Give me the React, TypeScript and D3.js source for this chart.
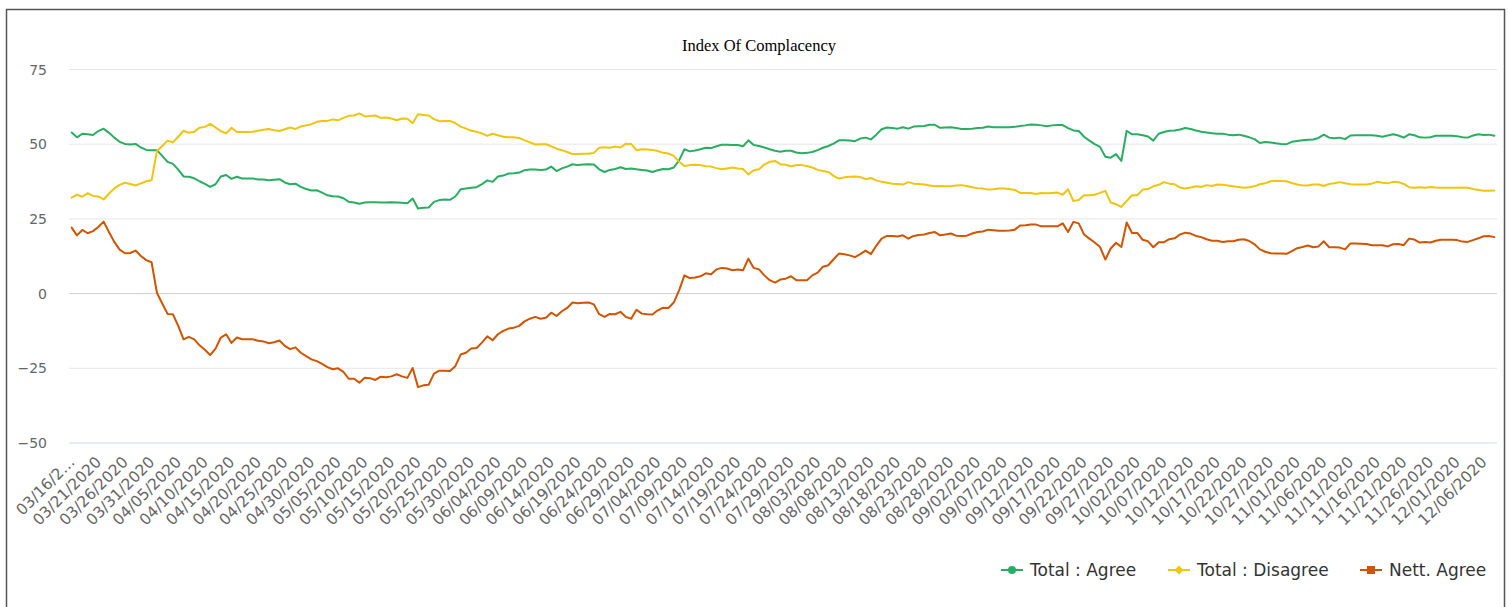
import React from 'react';
import * as d3 from 'd3';

// daily survey readings, 03/16/2020 .. 12/09/2020
const startDay = new Date(2020, 2, 16);

const agree = [
  53.9, 52.3, 53.5, 53.3, 53.1, 54.4, 55.2, 53.8, 52.2, 50.8,
  50.1, 49.9, 50.1, 48.9, 48.1, 48.0, 48.0, 46.1, 44.1, 43.4,
  41.5, 39.2, 39.1, 38.6, 37.6, 36.7, 35.7, 36.6, 39.2, 39.7,
  38.4, 39.1, 38.5, 38.5, 38.5, 38.2, 38.2, 37.9, 38.1, 38.3,
  37.2, 36.6, 36.8, 35.7, 35.0, 34.5, 34.6, 33.8, 32.9, 32.6,
  32.5, 31.9, 30.7, 30.5, 30.1, 30.5, 30.6, 30.6, 30.5, 30.5,
  30.6, 30.5, 30.4, 30.2, 31.8, 28.5, 28.7, 28.8, 30.7, 31.3,
  31.5, 31.4, 32.5, 34.9, 35.2, 35.4, 35.6, 36.6, 37.9, 37.4,
  39.2, 39.5, 40.2, 40.3, 40.5, 41.3, 41.5, 41.5, 41.4, 41.5,
  42.5, 41.0, 41.9, 42.5, 43.3, 43.0, 43.2, 43.3, 43.2, 41.6,
  40.7, 41.4, 41.7, 42.3, 41.7, 41.9, 41.6, 41.4, 41.2, 40.7,
  41.3, 41.7, 41.6, 42.2, 44.6, 48.3, 47.6, 47.9, 48.3, 48.8,
  48.7, 49.3, 49.8, 49.8, 49.7, 49.7, 49.3, 51.3, 49.7, 49.4,
  48.9, 48.3, 47.8, 47.5, 47.8, 47.8, 47.2, 47.0, 47.1, 47.4,
  48.0, 48.8, 49.4, 50.2, 51.3, 51.3, 51.2, 51.0, 51.9, 52.2,
  51.6, 53.2, 55.0, 55.6, 55.4, 55.2, 55.7, 55.2, 55.9, 56.0,
  56.1, 56.5, 56.5, 55.5, 55.6, 55.7, 55.4, 55.1, 55.1, 55.2,
  55.4, 55.5, 55.9, 55.7, 55.7, 55.7, 55.7, 55.8, 56.1, 56.3,
  56.6, 56.5, 56.3, 56.0, 56.3, 56.4, 56.4, 55.4, 54.6, 54.4,
  52.5, 51.2, 50.0, 49.1, 45.8, 45.5, 46.7, 44.4, 54.5, 53.3,
  53.3, 53.0, 52.6, 51.2, 53.5, 54.1, 54.5, 54.6, 54.9, 55.4,
  55.1, 54.6, 54.2, 53.9, 53.7, 53.5, 53.5, 53.2, 53.0, 53.2,
  52.8, 52.3, 51.7, 50.4, 50.7, 50.6, 50.3, 50.1, 50.0, 50.8,
  51.1, 51.3, 51.5, 51.6, 52.1, 53.2, 52.2, 52.0, 52.2, 51.7,
  52.9, 53.0, 53.0, 53.0, 53.0, 52.8, 52.5, 52.9, 53.3, 52.9,
  52.2, 53.3, 53.0, 52.3, 52.2, 52.3, 52.8, 52.8, 52.8, 52.8,
  52.7, 52.3, 52.2, 52.9, 53.3, 53.1, 53.2, 52.8,
];

const disagree = [
  32.1, 33.1, 32.4, 33.6, 32.7, 32.5, 31.5, 33.5, 35.2, 36.4,
  37.1, 36.7, 36.2, 36.9, 37.6, 37.9, 47.7, 49.4, 51.2, 50.6,
  52.5, 54.5, 53.8, 54.2, 55.5, 55.8, 56.8, 55.6, 54.4, 53.6,
  55.5, 54.1, 54.1, 54.1, 54.2, 54.5, 54.8, 55.1, 54.7, 54.4,
  55.0, 55.6, 55.1, 55.9, 56.3, 56.7, 57.5, 57.8, 57.8, 58.3,
  58.0, 58.8, 59.5, 59.6, 60.3, 59.3, 59.4, 59.6, 58.8, 58.9,
  58.6, 58.0, 58.6, 58.5, 57.0, 60.0, 59.8, 59.6, 58.4, 57.7,
  57.8, 57.8, 57.1, 55.9, 55.2, 54.5, 54.2, 53.6, 52.8, 53.5,
  53.0, 52.5, 52.3, 52.3, 52.1, 51.3, 50.6, 49.9, 50.0, 50.0,
  49.3, 48.5, 48.0, 47.4, 46.7, 46.7, 46.8, 46.8, 47.1, 48.8,
  49.0, 48.8, 49.2, 48.9, 50.1, 50.1, 48.0, 48.3, 48.2, 48.1,
  47.7, 47.1, 46.9, 46.1, 44.1, 42.7, 43.0, 43.1, 43.0, 42.6,
  42.5, 42.0, 41.6, 41.9, 42.2, 41.9, 41.7, 39.9, 41.3, 41.6,
  43.2, 44.1, 44.4, 43.3, 43.1, 42.6, 43.0, 43.0, 42.7, 42.2,
  41.4, 41.0, 40.7, 39.4, 38.5, 38.9, 39.1, 39.2, 39.0, 38.3,
  38.7, 37.9, 37.4, 37.1, 36.8, 36.7, 36.5, 37.3, 36.8, 36.7,
  36.5, 36.2, 35.9, 36.0, 35.9, 35.9, 36.2, 36.3, 36.0, 35.6,
  35.3, 35.2, 34.8, 34.9, 35.2, 35.2, 35.0, 34.7, 33.7, 33.7,
  33.7, 33.3, 33.7, 33.6, 33.7, 33.8, 33.1, 34.9, 31.0, 31.3,
  32.9, 32.9, 33.1, 33.7, 34.4, 30.5, 29.9, 29.0, 31.0, 32.9,
  32.9, 34.8, 35.0, 35.9, 36.4, 37.3, 36.8, 36.6, 35.5, 35.2,
  35.5, 35.9, 35.7, 36.3, 36.0, 36.5, 36.4, 36.2, 35.9, 35.7,
  35.4, 35.6, 35.9, 36.6, 36.9, 37.6, 37.8, 37.7, 37.6, 37.0,
  36.5, 36.2, 36.2, 36.5, 36.5, 36.0, 36.7, 36.9, 37.3, 36.9,
  36.6, 36.5, 36.5, 36.5, 36.8, 37.4, 37.1, 36.9, 37.4, 37.3,
  36.7, 35.6, 35.4, 35.6, 35.4, 35.7, 35.5, 35.4, 35.4, 35.4,
  35.4, 35.5, 35.4, 35.0, 34.7, 34.4, 34.4, 34.5,
];

const nettAgree = [
  22.1, 19.5, 21.3, 20.2, 20.9, 22.3, 24.1, 20.6, 17.3, 14.7,
  13.5, 13.6, 14.4, 12.6, 11.2, 10.5, 0.3, -3.3, -6.8, -6.9,
  -10.8, -15.3, -14.5, -15.3, -17.3, -18.8, -20.6, -18.4, -14.7, -13.6,
  -16.5, -14.7, -15.3, -15.3, -15.3, -15.8, -16.0, -16.6, -16.3, -15.7,
  -17.5, -18.6, -18.0, -19.8, -20.9, -22.0, -22.6, -23.5, -24.6, -25.3,
  -25.0, -26.2, -28.5, -28.5, -29.8, -28.2, -28.3, -28.9, -27.8, -28.0,
  -27.7, -27.0, -27.7, -28.2, -24.9, -31.3, -30.7, -30.5, -26.8, -25.8,
  -25.8, -25.9, -24.3, -20.4, -19.8, -18.4, -18.2, -16.4, -14.3, -15.6,
  -13.6, -12.5, -11.7, -11.4, -10.8, -9.3, -8.4, -7.8, -8.4, -8.1,
  -6.4, -7.5, -5.9, -4.8, -3.0, -3.2, -3.1, -3.0, -3.6, -6.9,
  -7.8, -6.8, -6.9, -6.1, -7.8, -8.4, -5.4, -6.7, -6.9, -7.0,
  -5.6, -4.7, -4.8, -3.0, 1.1, 6.1, 5.2, 5.4, 5.8, 6.8,
  6.5, 8.1, 8.6, 8.4, 7.8, 8.1, 7.8, 11.7, 8.6, 8.1,
  6.1, 4.5, 3.7, 4.7, 5.0, 5.8, 4.5, 4.5, 4.5, 6.1,
  7.0, 9.0, 9.5, 11.5, 13.4, 13.2, 12.8, 12.2, 13.2, 14.4,
  13.2, 16.0, 18.4, 19.3, 19.3, 19.1, 19.5, 18.4, 19.3, 19.6,
  19.8, 20.3, 20.6, 19.5, 19.8, 20.1, 19.4, 19.3, 19.4, 20.1,
  20.6, 20.8, 21.4, 21.2, 21.0, 21.0, 21.1, 21.4, 22.8, 22.9,
  23.1, 23.1, 22.5, 22.5, 22.5, 22.5, 23.5, 20.6, 24.0, 23.5,
  19.8, 18.4, 17.1, 15.6, 11.4, 15.1, 17.0, 15.6, 23.8, 20.3,
  20.3, 18.0, 17.5, 15.5, 17.2, 17.2, 18.2, 18.5, 19.8, 20.4,
  20.1, 19.3, 18.9, 18.2, 17.7, 17.7, 17.3, 17.5, 17.5, 18.0,
  18.2, 17.6, 16.5, 14.8, 14.0, 13.5, 13.4, 13.4, 13.3, 14.2,
  15.2, 15.6, 16.1, 15.5, 15.8, 17.5, 15.5, 15.5, 15.4, 14.8,
  16.8, 16.8, 16.7, 16.6, 16.2, 16.2, 16.2, 15.8, 16.5, 16.6,
  16.2, 18.4, 18.1, 17.1, 17.3, 17.1, 17.7, 18.0, 18.0, 18.0,
  17.9, 17.4, 17.3, 17.9, 18.5, 19.2, 19.3, 18.9,
];

const yTicks = [75, 50, 25, 0, -25, -50];

const fmt = d3.timeFormat('%m/%d/%Y');
const categories = agree.map((_, i) => fmt(d3.timeDay.offset(startDay, i)));

const seriesList = [
  {name: 'Total : Agree', values: agree, color: '#27ae60', marker: 'circle'},
  {name: 'Total : Disagree', values: disagree, color: '#f1c40f', marker: 'diamond'},
  {name: 'Nett. Agree', values: nettAgree, color: '#d35400', marker: 'square'},
];

export default function App() {
  const left = 69, right = 1497, top = 69.5, bottom = 443;

  const x = d3.scalePoint<number>()
    .domain(categories.map((_, i) => i))
    .range([left, right])
    .padding(0.5);

  const y = d3.scaleLinear().domain([-50, 75]).range([bottom, top]);

  const line = d3.line<number>()
    .x((_, i) => x(i) as number)
    .y(d => y(d));

  const legendX = [1001, 1168, 1360];

  return (
    <div style={{position: 'absolute', left: 0, top: 0}}>
      <svg width={1508} height={607} style={{display: 'block', fontFamily: '"DejaVu Sans", sans-serif'}}>
        <rect x={6.5} y={9.5} width={1498} height={620} fill="#fff" stroke="#555" strokeWidth={1.5} />

        <text x={759} y={51} textAnchor="middle" fontFamily='"Liberation Serif", serif' fontSize={16.5} fill="#000">
          Index Of Complacency
        </text>

        {yTicks.map(t => (
          <g key={t}>
            <line x1={left} x2={right} y1={y(t)} y2={y(t)}
              stroke={t === -50 ? '#ccd6eb' : t === 0 ? '#d0d0d0' : '#e6e6e6'} strokeWidth={1} />
            <text x={47} y={y(t) + 5} textAnchor="end" fontSize={14} fill="#666">
              {t < 0 ? '\u2212' + Math.abs(t) : t}
            </text>
          </g>
        ))}

        {categories.map((c, i) => i % 5 === 0 ? (
          <text key={c} transform={`translate(${(x(i) as number) + 4},${463}) rotate(-45)`}
            textAnchor="end" fontSize={15.5} fill="#666">
            {i === 0 ? '03/16/2\u2026' : c}
          </text>
        ) : null)}

        {seriesList.map(s => (
          <path key={s.name} d={line(s.values) || ''} fill="none" stroke={s.color}
            strokeWidth={2} strokeLinejoin="round" strokeLinecap="round" />
        ))}

        {seriesList.map((s, k) => {
          const lx = legendX[k];
          const cy = 570;
          const cx = lx + 11;
          return (
            <g key={s.name}>
              <line x1={lx} x2={lx + 22} y1={cy} y2={cy} stroke={s.color} strokeWidth={2} />
              {s.marker === 'circle' && <circle cx={cx} cy={cy} r={4} fill={s.color} />}
              {s.marker === 'diamond' && (
                <path d={`M${cx},${cy - 4.5}L${cx + 4.5},${cy}L${cx},${cy + 4.5}L${cx - 4.5},${cy}Z`} fill={s.color} />
              )}
              {s.marker === 'square' && <rect x={cx - 4} y={cy - 4} width={8} height={8} fill={s.color} />}
              <text x={lx + 29} y={cy + 6} fontSize={17} fill="#333">{s.name}</text>
            </g>
          );
        })}
      </svg>
    </div>
  );
}
